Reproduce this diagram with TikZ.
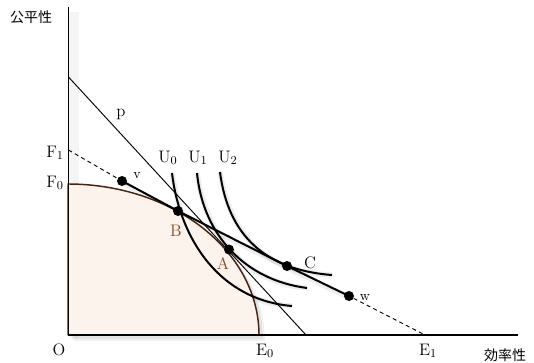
\documentclass[tikz,border=0pt]{standalone}
\usepackage{fontspec}
\newfontfamily\cjk{Noto Sans CJK JP}
\definecolor{frfill}{HTML}{FBF3EC}
\definecolor{frline}{HTML}{4E2208}
\definecolor{lblbrown}{HTML}{8A4A1A}
\begin{document}
\begin{tikzpicture}[x=0.75pt,y=-0.75pt,
  lbl/.style={inner sep=0pt, font=\fontsize{12.5}{14}\selectfont},
  smalllbl/.style={inner sep=0pt, font=\fontsize{10.5}{12}\selectfont},
  cjklbl/.style={inner sep=0pt, font=\cjk\fontsize{10.5}{12}\selectfont},
  dot/.style={circle, fill=black, inner sep=0pt, minimum size=7.5pt},
  thinline/.style={line width=0.8pt},
  thickline/.style={line width=1.5pt},
  shd/.style={draw=black, opacity=0.07, line width=4pt, shift={(3,3)}},
  shdb/.style={draw=black, opacity=0.04, line width=7pt, shift={(5,4)}}
]
\useasboundingbox (0,0) rectangle (534,363);

% coordinates
\coordinate (Ytop) at (68.5,7);
\coordinate (O) at (68.5,335);
\coordinate (Xend) at (518,335);
\coordinate (Ptop) at (68.5,77);
\coordinate (Pbot) at (306,335);
\coordinate (F1c) at (68.5,150);
\coordinate (E1c) at (425,335);
\coordinate (U0s) at (172,173);
\coordinate (U0e) at (292,306);
\coordinate (U1s) at (197,173);
\coordinate (U1e) at (307,288);
\coordinate (U2s) at (220,172);
\coordinate (U2e) at (332,275);

% shadows
\draw[shdb] (69,8) -- (69,335);
\fill[black, opacity=0.06, shift={(4,4)}] (68,335) -- (68,184) -- plot[domain=90:0, samples=60] ({68+191*cos(\x)},{335-151*sin(\x)}) -- cycle;
\fill[black, opacity=0.05, shift={(6,6)}] (68,335) -- (68,184) -- plot[domain=90:0, samples=60] ({68+191*cos(\x)},{335-151*sin(\x)}) -- cycle;
\draw[shd] (U0s) .. controls (180,240) and (220,300) .. (U0e);
\draw[shd] (U1s) .. controls (203,235) and (245,280) .. (U1e);
\draw[shd] (U2s) .. controls (228,235) and (265,270) .. (U2e);
\draw[shd] (122,181) -- (178,211) -- (287,266) -- (349,296);

% frontier region
\fill[frfill] (68,335) -- (68,184) -- plot[domain=90:0, samples=80] ({68+191*cos(\x)},{335-151*sin(\x)}) -- cycle;
\draw[frline, line width=1.1pt, line join=round] (259,335) -- (68,335) -- (68,184) -- plot[domain=90:0, samples=80] ({68+191*cos(\x)},{335-151*sin(\x)});

% axes
\draw[thinline] (Ytop) -- (O) -- (Xend);

% price line p
\draw[line width=0.7pt] (Ptop) -- (Pbot);

% indifference curves
\draw[thickline] (U0s) .. controls (180,240) and (220,300) .. (U0e);
\draw[thickline] (U1s) .. controls (203,235) and (245,280) .. (U1e);
\draw[thickline] (U2s) .. controls (228,235) and (265,270) .. (U2e);

% dots
\node[dot] (v) at (122,181) {};
\node[dot] (B) at (178,211) {};
\node[dot] (A) at (229,249.5) {};
\node[dot] (C) at (287,266) {};
\node[dot] (w) at (349,296) {};

% line through v,B,C,w
\draw[thickline, line join=round] (v.center) -- (B.center) -- (C.center) -- (w.center);
\draw[line width=0.7pt, dash pattern=on 3pt off 2.5pt] (F1c) -- (v);
\draw[line width=0.7pt, dash pattern=on 3pt off 2.5pt] (w) -- (E1c);

% labels
\node[cjklbl] (ylab) at (31,17) {公平性};
\node[cjklbl] (xlab) at (505,355) {効率性};
\node[lbl] (Olab) at (59,350) {O};
\node[lbl] (E0lab) at (265,351) {E$_0$};
\node[lbl] (E1lab) at (428,351) {E$_1$};
\node[lbl] (F1lab) at (55,153) {F$_1$};
\node[lbl] (F0lab) at (55,183) {F$_0$};
\node[lbl] (plab) at (121,114) {p};
\node[smalllbl] (vlab) at (137,176) {v};
\node[smalllbl] (wlab) at (365,298) {w};
\node[lbl] (U0lab) at (168,158) {U$_0$};
\node[lbl] (U1lab) at (198,158) {U$_1$};
\node[lbl] (U2lab) at (228,158) {U$_2$};
\node[lbl, text=lblbrown] (Blab) at (176,231) {B};
\node[lbl, text=lblbrown] (Alab) at (223,264) {A};
\node[lbl] (Clab) at (310,263) {C};
\end{tikzpicture}
\end{document}
